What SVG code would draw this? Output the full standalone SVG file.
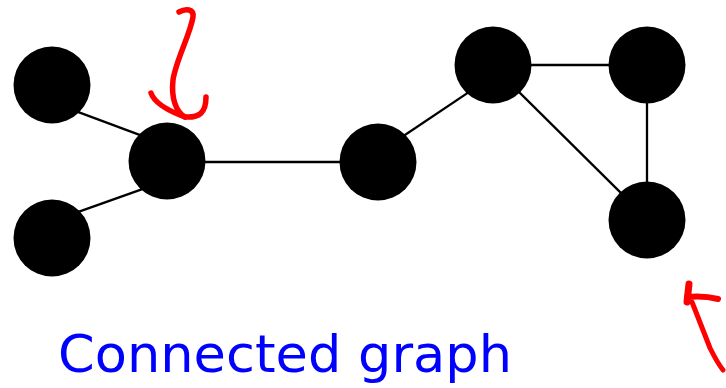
<svg xmlns="http://www.w3.org/2000/svg" width="726" height="388" viewBox="0 0 726 388">
  <style>
    .node { fill: #000; }
    .edge { stroke: #000; stroke-width: 2.3; fill: none; }
    .ink { stroke: #ff0000; fill: none; stroke-linecap: round; stroke-linejoin: round; }
    .caption { font-family: "DejaVu Sans", "Liberation Sans", sans-serif; font-size: 51px; fill: #0000ff; }
  </style>

  <!-- connectors (ends tucked under the vertex discs) -->
  <g id="edges">
    <line class="edge" x1="65" y1="107.2" x2="155" y2="140.6"/>
    <line class="edge" x1="65" y1="216.6" x2="155" y2="184.7"/>
    <line class="edge" x1="167" y1="162" x2="378" y2="162"/>
    <line class="edge" x1="390" y1="145" x2="480" y2="84.6"/>
    <line class="edge" x1="493" y1="65" x2="647" y2="65"/>
    <line class="edge" x1="505" y1="78.2" x2="635" y2="206.9"/>
    <line class="edge" x1="647" y1="65" x2="647" y2="220"/>
  </g>

  <!-- vertices -->
  <g id="node-a"><circle class="node" cx="52" cy="85" r="38.5"/></g>
  <g id="node-b"><circle class="node" cx="52" cy="238" r="38.5"/></g>
  <g id="node-c"><circle class="node" cx="167" cy="161" r="38.5"/></g>
  <g id="node-d"><circle class="node" cx="378" cy="162" r="38.5"/></g>
  <g id="node-e"><circle class="node" cx="493" cy="65" r="38.5"/></g>
  <g id="node-f"><circle class="node" cx="647" cy="65" r="38.5"/></g>
  <g id="node-g"><circle class="node" cx="647" cy="220" r="38.5"/></g>

  <!-- hand-drawn pointer above the middle-left vertex -->
  <g id="pointer-top">
    <path class="ink" stroke-width="5.5" d="M179,12 C186,8 194,9 193,17 C190,35 176,60 173,80 C171,98 176,112 185,117"/>
    <path class="ink" stroke-width="5.5" d="M151,93 C154,102 166,110 185,117 C199,118 206,113 206,97"/>
  </g>

  <!-- hand-drawn pointer at the lower right -->
  <g id="pointer-bottom">
    <path class="ink" stroke-width="7" d="M689,284 L687,302"/>
    <path class="ink" stroke-width="6" d="M687,297 C698,296 710,297 718,299"/>
    <path class="ink" stroke-width="5" d="M692,302 C697,315 703,330 710,348 C715,358 719,365 723,370"/>
  </g>

  <text class="caption" x="58" y="372" textLength="454" lengthAdjust="spacingAndGlyphs">Connected graph</text>
</svg>
